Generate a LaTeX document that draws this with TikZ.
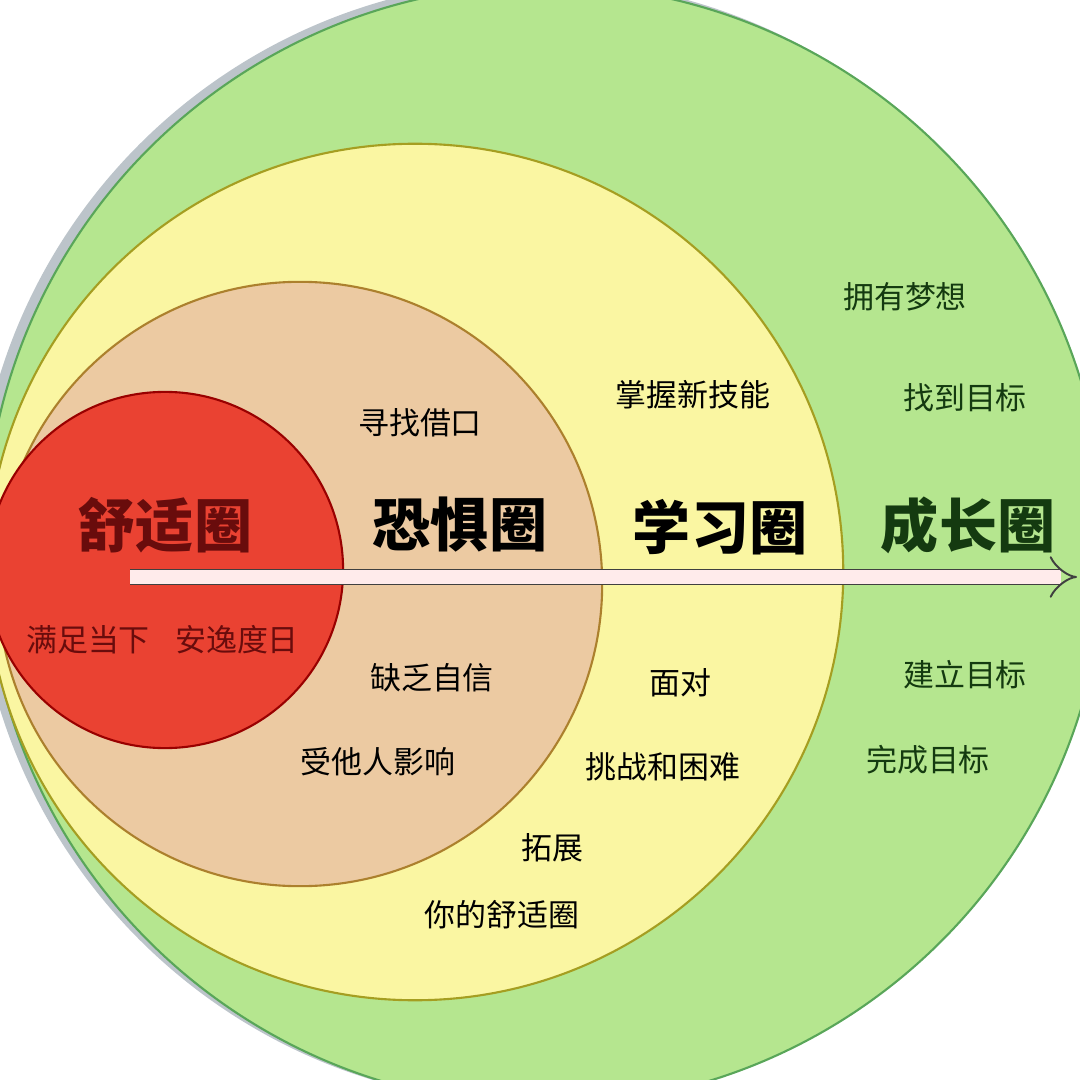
\documentclass[tikz,border=0pt]{standalone}
\usepackage{fontspec}
\newfontfamily\cjk{Noto Sans CJK SC}
\usetikzlibrary{arrows.meta}
\definecolor{growgreen}{RGB}{181,230,143}
\definecolor{learnyellow}{RGB}{250,246,162}
\definecolor{feartan}{RGB}{236,202,162}
\definecolor{comfortred}{RGB}{234,66,50}
\definecolor{shadowgray}{RGB}{188,196,202}
\definecolor{darkred}{RGB}{105,12,12}
\definecolor{darkgreen}{RGB}{20,58,16}
\tikzset{
    zone/.style={circle, inner sep=0pt, line width=0.6pt},
    zonetitle/.style={font=\cjk\bfseries\fontsize{16.5}{18}\selectfont, inner sep=0pt},
    smalltext/.style={font=\cjk\fontsize{8.8}{10}\selectfont, inner sep=0pt},
}
\begin{document}
\begin{tikzpicture}[x=0.01cm, y=-0.01cm]
            \useasboundingbox (0,0) rectangle (1080,1080);
            \clip (0,0) rectangle (1080,1080);
            \fill[white] (0,0) rectangle (1080,1080);

            % Circles
            \node[zone, fill=shadowgray, minimum size=11.24cm] (shadow) at (537,542) {};
            \node[zone, fill=growgreen, draw=gray!70!green, minimum size=11.2cm] (grow) at (545,545) {};
            \node[zone, fill=learnyellow, draw=olive!80, minimum size=8.56cm] (learn) at (415,572) {};
            \node[zone, fill=feartan, draw=brown!70!olive, minimum size=6.04cm] (fear) at (300,584) {};
            \node[zone, fill=comfortred, draw=red!60!black, minimum size=3.56cm] (comfort) at (165,570) {};

            % Arrow
            \coordinate (start) at (130,577);
            \coordinate (end) at (1077,577);
            \draw[line width=0.55pt, draw=gray!50!black, double={white!92!red}, double distance=0.13cm, -{Implies[scale=1.2]}] (start) -- (end);

            % Titles
            \node[zonetitle, text=darkred] (comfortTitle) at (165,525) {舒适圈};
            \node[zonetitle] (fearTitle) at (460,525) {恐惧圈};
            \node[zonetitle] (learnTitle) at (720,527) {学习圈};
            \node[zonetitle, text=darkgreen] (growTitle) at (968,525) {成长圈};

            % Comfort zone
            \node[smalltext, text=darkred] (content) at (88,640) {满足当下};
            \node[smalltext, text=darkred] (idle) at (237,640) {安逸度日};

            % Fear zone
            \node[smalltext] (excuse) at (420,423) {寻找借口};
            \node[smalltext] (doubt) at (432,678) {缺乏自信};
            \node[smalltext] (others) at (378,762) {受他人影响};

            % Learning zone
            \node[smalltext] (skill) at (693,395) {掌握新技能};
            \node[smalltext] (face) at (680,683) {面对};
            \node[smalltext] (challenge) at (663,767) {挑战和困难};
            \node[smalltext] (expand) at (552,848) {拓展};
            \node[smalltext] (yours) at (502,915) {你的舒适圈};

            % Growth zone
            \node[smalltext, text=darkgreen] (dream) at (905,297) {拥有梦想};
            \node[smalltext, text=darkgreen] (find) at (965,398) {找到目标};
            \node[smalltext, text=darkgreen] (set) at (965,675) {建立目标};
            \node[smalltext, text=darkgreen] (reach) at (928,760) {完成目标};
        \end{tikzpicture}
\end{document}
